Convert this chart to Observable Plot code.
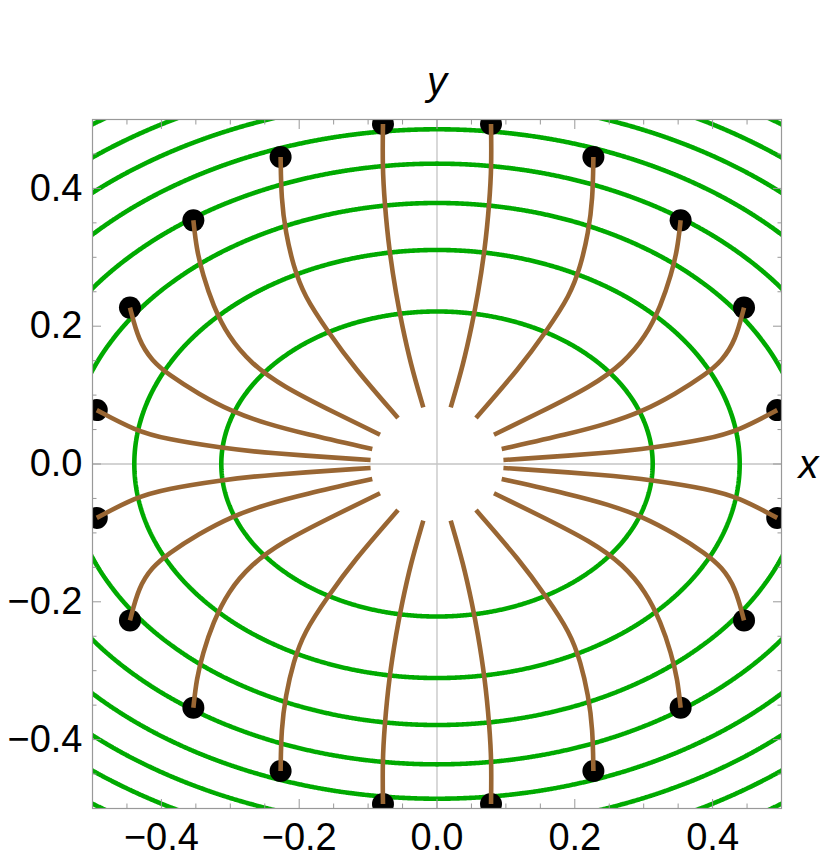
<!DOCTYPE html>
<html><head><meta charset="utf-8">
<script src="https://cdn.jsdelivr.net/npm/d3@7"></script>
<script src="https://cdn.jsdelivr.net/npm/@observablehq/plot@0.6"></script>
<style>body{margin:0;background:#fff}</style>
</head><body><div id="chart"></div>
<script>
// Contour levels of x^2 + 2 y^2
const contourLevels = [0.098, 0.193, 0.287, 0.380, 0.472, 0.560, 0.646, 0.736];

// Field lines in the first quadrant (start point first)
const line81 = [[0.0784,0.4935],[0.0792,0.4329],[0.0761,0.3797],[0.0697,0.3120],[0.0590,0.2443],[0.0510,0.2032],[0.0383,0.1451],[0.0199,0.0821]];
const line63 = [[0.2270,0.4456],[0.2260,0.3846],[0.2197,0.3361],[0.2086,0.2878],[0.1930,0.2443],[0.1592,0.1935],[0.1205,0.1402],[0.0566,0.0668]];
const line45 = [[0.3536,0.3536],[0.3490,0.3120],[0.3400,0.2750],[0.3250,0.2300],[0.3030,0.1850],[0.2700,0.1460],[0.2250,0.1130],[0.1447,0.0726],[0.0827,0.0425]];
const line27 = [[0.4456,0.2270],[0.4331,0.1790],[0.4136,0.1499],[0.3900,0.1300],[0.3460,0.1016],[0.2975,0.0760],[0.2492,0.0590],[0.1930,0.0440],[0.0939,0.0218]];
const line09 = [[0.4938,0.0782],[0.4379,0.0484],[0.3943,0.0363],[0.3120,0.0232],[0.2492,0.0160],[0.0964,0.0058]];

const majorTicks = [-0.4, -0.2, 0, 0.2, 0.4];
const minorTicks = [-0.45,-0.35,-0.3,-0.25,-0.15,-0.1,-0.05,0.05,0.1,0.15,0.25,0.3,0.35,0.45];

const quadrantLines = [line81, line63, line45, line27, line09];
const signs = [[1,1],[-1,1],[1,-1],[-1,-1]];
const fieldRows = [];
const startRows = [];
let id = 0;
for (const [sx, sy] of signs) {
  for (const ln of quadrantLines) {
    ln.forEach(([x, y]) => fieldRows.push({id, x: sx * x, y: sy * y}));
    startRows.push({x: sx * ln[0][0], y: sy * ln[0][1]});
    id++;
  }
}

const fmt = d3.format(".1f");
const frameGray = "#999999";

const chart = Plot.plot({
  width: 822,
  height: 866,
  marginLeft: 92,
  marginRight: 41,
  marginTop: 119,
  marginBottom: 58,
  style: {fontFamily: "'Liberation Sans', Arial, sans-serif", background: "#fff", color: "#000"},
  x: {domain: [-0.5, 0.5], axis: null},
  y: {domain: [-0.5, 0.5], axis: null},
  marks: [
    Plot.ruleX([0], {stroke: "#c4c4c4", strokeWidth: 1.3}),
    Plot.ruleY([0], {stroke: "#c4c4c4", strokeWidth: 1.3}),
    Plot.contour({
      value: (x, y) => x * x + 2 * y * y,
      x1: -0.6, x2: 0.6, y1: -0.6, y2: 0.6,
      pixelSize: 1,
      thresholds: contourLevels,
      fill: "none",
      stroke: "#00aa00",
      strokeWidth: 4.6,
      clip: true
    }),
    Plot.dot(startRows, {x: "x", y: "y", r: 11, fill: "#000", stroke: "none", clip: true}),
    Plot.line(fieldRows, {x: "x", y: "y", z: "id", stroke: "#996633", strokeWidth: 4.6, curve: "basis", strokeLinecap: "butt", clip: true}),
    Plot.frame({stroke: frameGray, strokeWidth: 1.2}),
    // ticks pointing inward on all four sides
    Plot.axisX(majorTicks, {anchor: "bottom", tickSize: -9, fill: "none", stroke: frameGray, label: null}),
    Plot.axisX(minorTicks, {anchor: "bottom", tickSize: -4.5, fill: "none", stroke: frameGray, label: null}),
    Plot.axisX(majorTicks, {anchor: "top", tickSize: -9, fill: "none", stroke: frameGray, label: null}),
    Plot.axisX(minorTicks, {anchor: "top", tickSize: -4.5, fill: "none", stroke: frameGray, label: null}),
    Plot.axisY(majorTicks, {anchor: "left", tickSize: -9, fill: "none", stroke: frameGray, label: null}),
    Plot.axisY(minorTicks, {anchor: "left", tickSize: -4.5, fill: "none", stroke: frameGray, label: null}),
    Plot.axisY(majorTicks, {anchor: "right", tickSize: -9, fill: "none", stroke: frameGray, label: null}),
    Plot.axisY(minorTicks, {anchor: "right", tickSize: -4.5, fill: "none", stroke: frameGray, label: null}),
    // tick labels
    Plot.text(majorTicks, {x: d => d, frameAnchor: "bottom", lineAnchor: "top", dy: 15, text: d => fmt(d), fontSize: 38, fill: "#000"}),
    Plot.text(majorTicks, {y: d => d, frameAnchor: "left", textAnchor: "end", dx: -10, text: d => fmt(d), fontSize: 38, fill: "#000"}),
    // axis labels
    Plot.text(["y"], {frameAnchor: "top", lineAnchor: "bottom", dy: -25, text: d => d, fontSize: 40, fontStyle: "italic", fill: "#000"}),
    Plot.text(["x"], {frameAnchor: "right", lineAnchor: "bottom", textAnchor: "middle", dx: 27, dy: 14, text: d => d, fontSize: 40, fontStyle: "italic", fill: "#000"})
  ]
});
document.getElementById("chart").appendChild(chart);
</script>
</body></html>
